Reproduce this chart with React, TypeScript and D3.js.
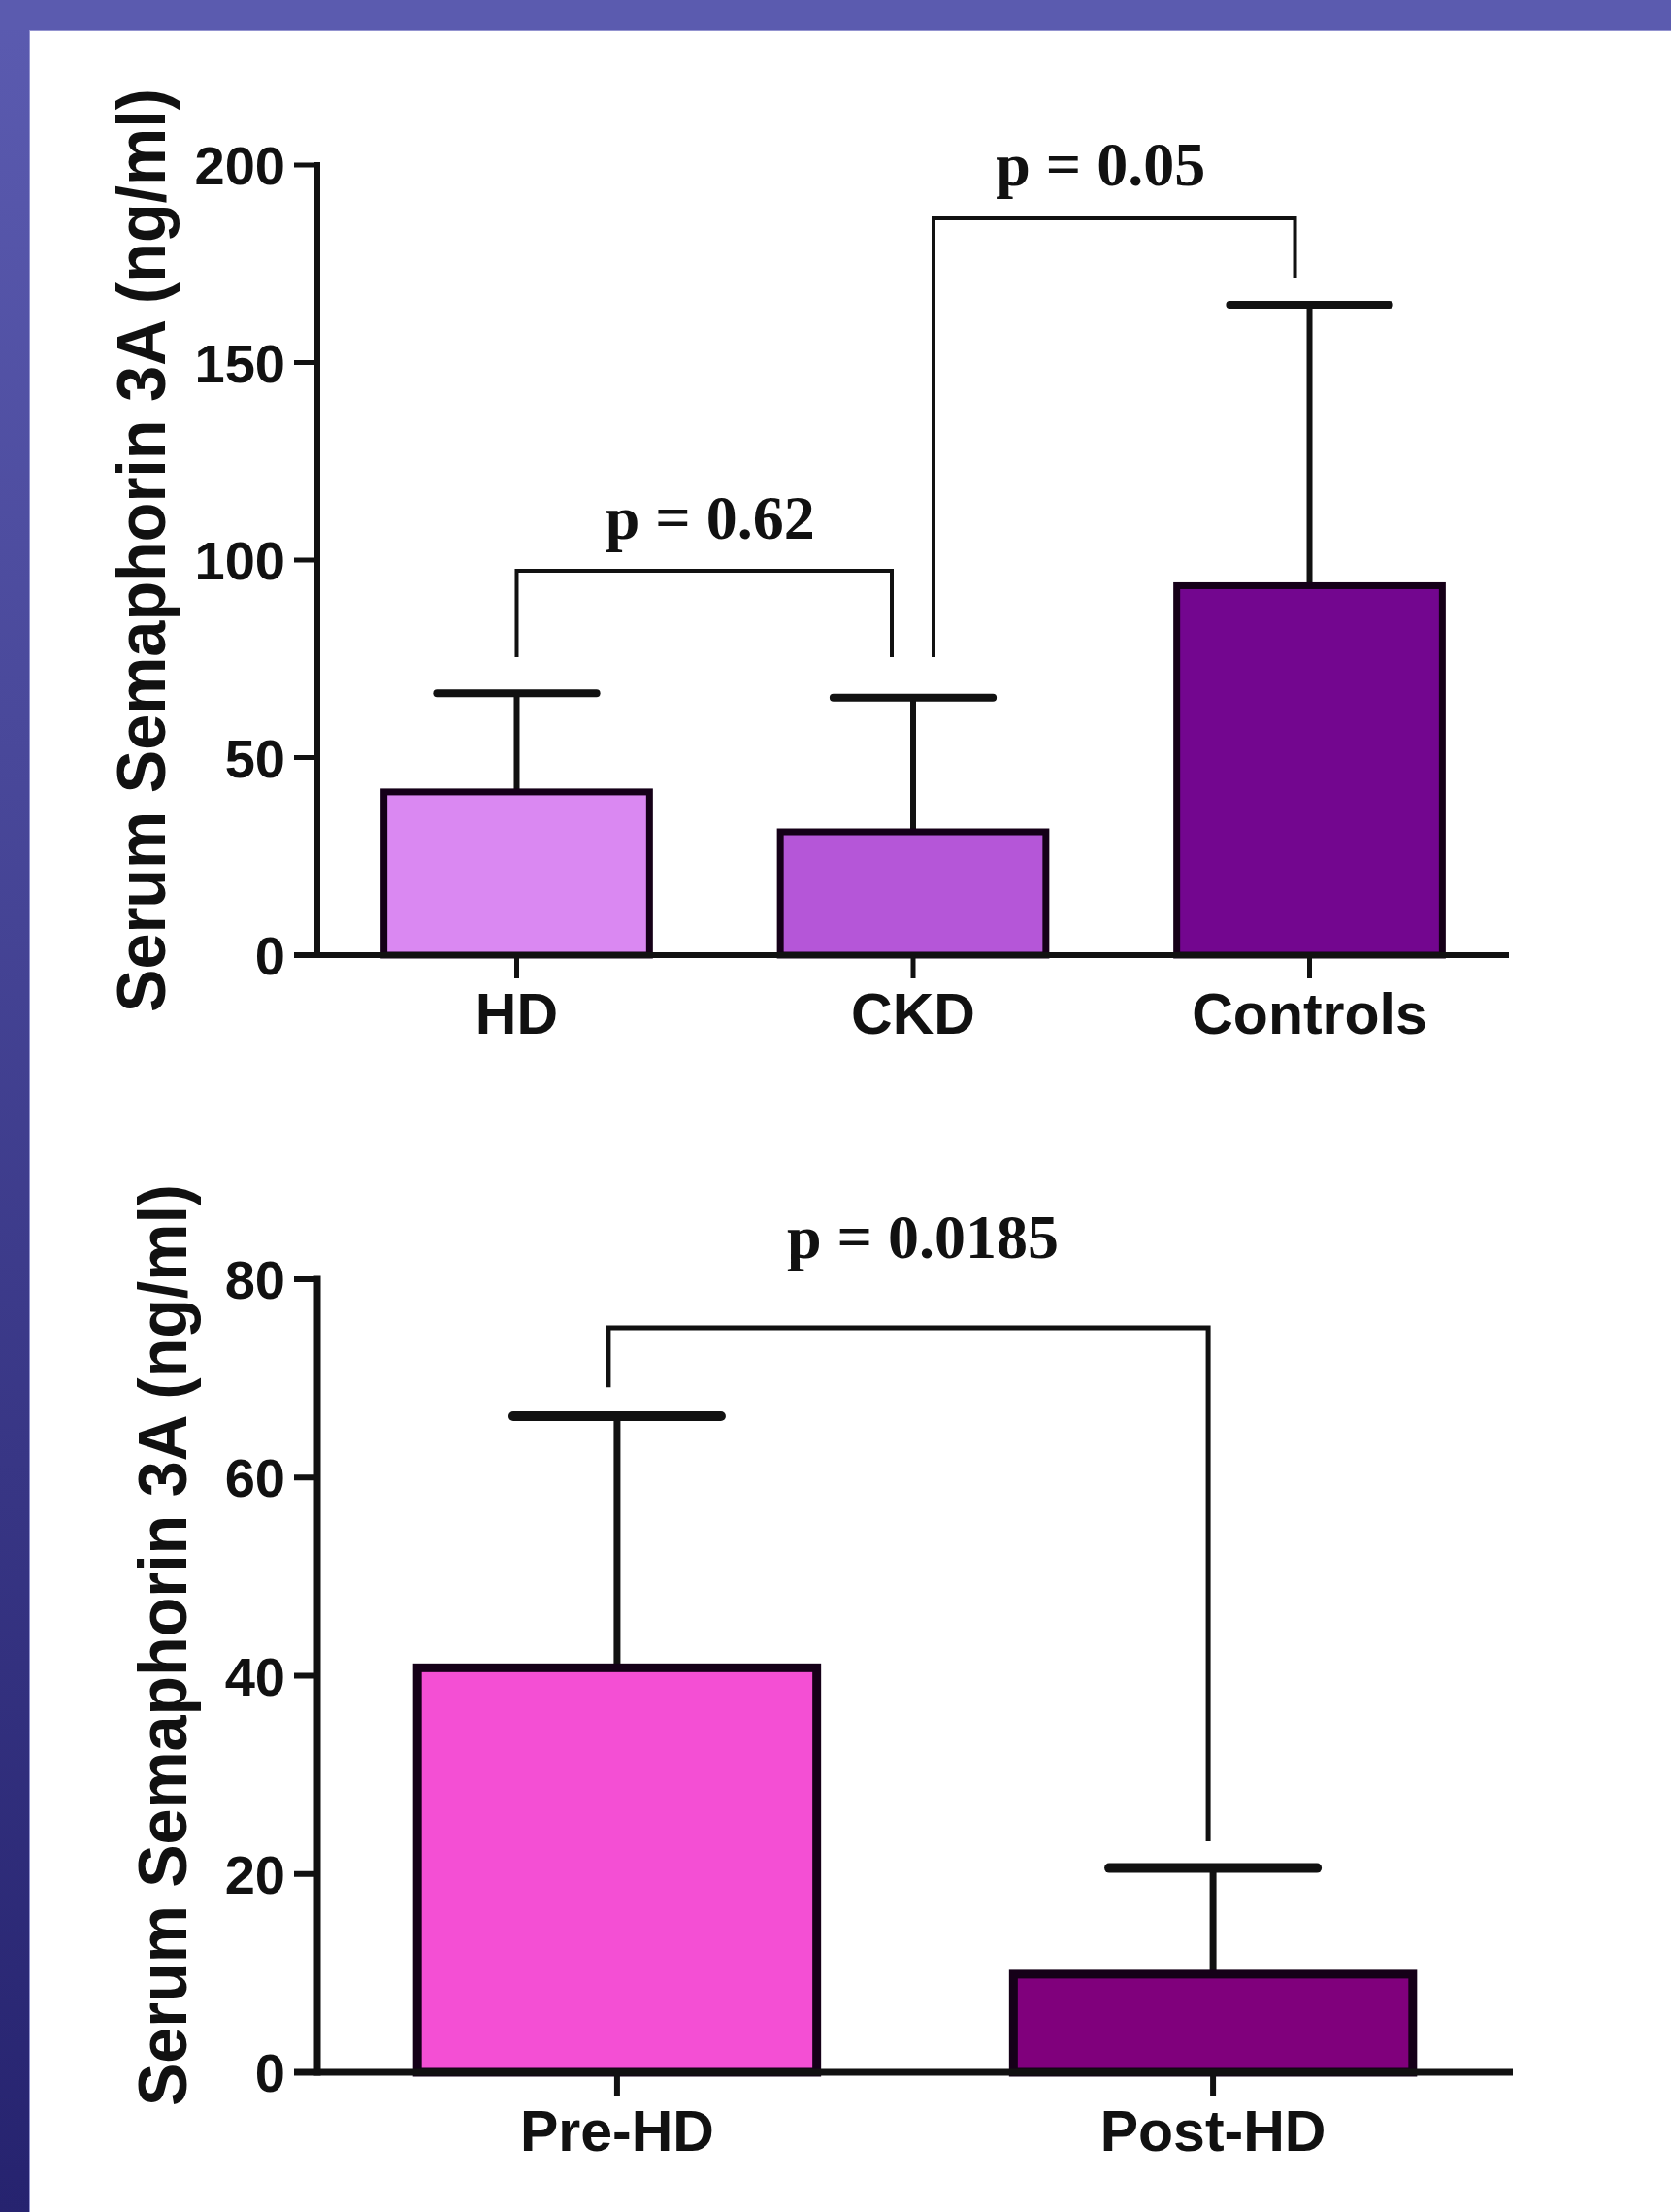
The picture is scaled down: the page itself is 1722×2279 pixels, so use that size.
import React from 'react';
import * as d3 from 'd3';

const W = 1722;
const H = 2279;

// top panel data
const topCategories = ['HD', 'CKD', 'Controls'];
const topMeans = [41.3, 31.2, 93.5];
const topSD = [25.0, 34.0, 71.1];
const topTicks = [0, 50, 100, 150, 200];
const topColors = ['#da88f2', '#b556d8', '#73068f'];
const topBrackets = [
  { from: 'HD', to: 'CKD', y: 97.3, fromEnd: 75.4, toEnd: 75.4, label: 'p = 0.62' },
  { from: 'CKD', to: 'Controls', y: 186.5, fromEnd: 75.4, toEnd: 171.5, label: 'p = 0.05' },
];

// bottom panel data
const bottomCategories = ['Pre-HD', 'Post-HD'];
const bottomMeans = [40.8, 9.9];
const bottomSD = [25.4, 10.7];
const bottomTicks = [0, 20, 40, 60, 80];
const bottomColors = ['#f44fd4', '#80007c'];
const bottomBrackets = [
  { from: 'Pre-HD', to: 'Post-HD', y: 75.1, fromEnd: 69.1, toEnd: 23.3, label: 'p = 0.0185' },
];

const yTitle = 'Serum Semaphorin 3A (ng/ml)';

const SANS = "'Liberation Sans', Arial, sans-serif";
const SERIF = "'Liberation Serif', 'Times New Roman', serif";
const INK = '#111';
const OUTLINE = '#150018';

const TOP_LAYOUT = {
  x0: 327, x1: 1555, yBase: 984, yTop: 170,
  titleX: 170, titleY: 567, titleLen: 952,
  capFrac: 0.6,
  axisW: 6, barW: 7, stemW: 6, capW: 8, brW: 4,
  bracketDx: [[0, -22], [21, -15]],
  labelDx: [[6, -33], [-14, -34]],
};

const BOTTOM_LAYOUT = {
  x0: 327, x1: 1559, yBase: 2135, yTop: 1318,
  titleX: 192, titleY: 1695, titleLen: 950,
  capFrac: 0.52,
  axisW: 7, barW: 9, stemW: 7, capW: 10, brW: 5,
  bracketDx: [[-9, -5]],
  labelDx: [[15, -72]],
};

function Panel({ categories, means, sds, colors, ticks, brackets, layout }) {
  const L = layout;
  const x = d3.scaleBand()
    .domain(categories)
    .range([L.x0, L.x1])
    .paddingInner(0.33)
    .paddingOuter(0.168);
  const y = d3.scaleLinear()
    .domain([0, d3.max(ticks)])
    .range([L.yBase, L.yTop]);
  const bw = x.bandwidth();
  const cx = (c) => x(c) + bw / 2;
  const capHalf = (bw * L.capFrac) / 2;

  return (
    <g>
      {/* y axis title */}
      <text
        transform={`translate(${L.titleX},${L.titleY}) rotate(-90)`}
        textAnchor="middle"
        fontFamily={SANS}
        fontWeight="bold"
        fontSize={70}
        fill={INK}
        textLength={L.titleLen}
        lengthAdjust="spacingAndGlyphs"
      >
        {yTitle}
      </text>

      {/* brackets */}
      {brackets.map((b, i) => {
        const xa = cx(b.from) + L.bracketDx[i][0];
        const xb = cx(b.to) + L.bracketDx[i][1];
        const path = d3.path();
        path.moveTo(xa, y(b.fromEnd));
        path.lineTo(xa, y(b.y));
        path.lineTo(xb, y(b.y));
        path.lineTo(xb, y(b.toEnd));
        return (
          <g key={b.label}>
            <path d={path.toString()} fill="none" stroke={INK} strokeWidth={L.brW} />
            <text
              x={(xa + xb) / 2 + L.labelDx[i][0]}
              y={y(b.y) + L.labelDx[i][1]}
              textAnchor="middle"
              fontFamily={SERIF}
              fontWeight="bold"
              fontSize={64}
              fill={INK}
            >
              {b.label}
            </text>
          </g>
        );
      })}

      {/* error bars */}
      {categories.map((c, i) => {
        const top = y(means[i] + sds[i]);
        return (
          <g key={`err-${c}`} stroke={INK} strokeLinecap="butt">
            <line x1={cx(c)} x2={cx(c)} y1={y(means[i])} y2={top} strokeWidth={L.stemW} />
            <line x1={cx(c) - capHalf} x2={cx(c) + capHalf} y1={top} y2={top} strokeWidth={L.capW} strokeLinecap="round" />
          </g>
        );
      })}

      {/* bars */}
      {categories.map((c, i) => (
        <rect
          key={`bar-${c}`}
          x={x(c)}
          y={y(means[i])}
          width={bw}
          height={y(0) - y(means[i])}
          fill={colors[i]}
          stroke={OUTLINE}
          strokeWidth={L.barW}
        />
      ))}

      {/* y axis */}
      <line x1={L.x0} x2={L.x0} y1={y(0) + L.axisW / 2} y2={y(d3.max(ticks)) - L.axisW / 2} stroke={INK} strokeWidth={L.axisW} />
      {ticks.map((t) => (
        <g key={`yt-${t}`}>
          <line x1={L.x0 - 24} x2={L.x0} y1={y(t)} y2={y(t)} stroke={INK} strokeWidth={L.axisW - 1} />
          <text
            x={L.x0 - 33}
            y={y(t)}
            dy="0.36em"
            textAnchor="end"
            fontFamily={SANS}
            fontWeight="bold"
            fontSize={56}
            fill={INK}
          >
            {t}
          </text>
        </g>
      ))}

      {/* x axis */}
      <line x1={L.x0 - 24} x2={L.x1} y1={y(0)} y2={y(0)} stroke={INK} strokeWidth={L.axisW} />
      {categories.map((c) => (
        <g key={`xt-${c}`}>
          <line x1={cx(c)} x2={cx(c)} y1={y(0)} y2={y(0) + 24} stroke={INK} strokeWidth={L.axisW - 1} />
          <text
            x={cx(c)}
            y={y(0) + 81}
            textAnchor="middle"
            fontFamily={SANS}
            fontWeight="bold"
            fontSize={59}
            fill={INK}
          >
            {c}
          </text>
        </g>
      ))}
    </g>
  );
}

export default function App() {
  return (
    <div style={{ position: 'absolute', left: 0, top: 0 }}>
      <svg width={W} height={H} style={{ display: 'block' }}>
        <defs>
          <linearGradient id="frameGrad" x1="0" y1="0" x2="0" y2="1">
            <stop offset="0" stopColor="#5b5bb0" />
            <stop offset="1" stopColor="#26236f" />
          </linearGradient>
        </defs>
        <rect x={0} y={0} width={W} height={H} fill="#fff" />
        <rect x={0} y={0} width={30} height={H} fill="url(#frameGrad)" />
        <rect x={0} y={0} width={W} height={31} fill="#5b5baf" />
        <line x1={30.5} x2={30.5} y1={31} y2={H} stroke="#9494d0" strokeWidth={1} />
        <line x1={30} x2={W} y1={31.5} y2={31.5} stroke="#9494d0" strokeWidth={1} />

        <Panel
          categories={topCategories}
          means={topMeans}
          sds={topSD}
          colors={topColors}
          ticks={topTicks}
          brackets={topBrackets}
          layout={TOP_LAYOUT}
        />
        <Panel
          categories={bottomCategories}
          means={bottomMeans}
          sds={bottomSD}
          colors={bottomColors}
          ticks={bottomTicks}
          brackets={bottomBrackets}
          layout={BOTTOM_LAYOUT}
        />
      </svg>
    </div>
  );
}
